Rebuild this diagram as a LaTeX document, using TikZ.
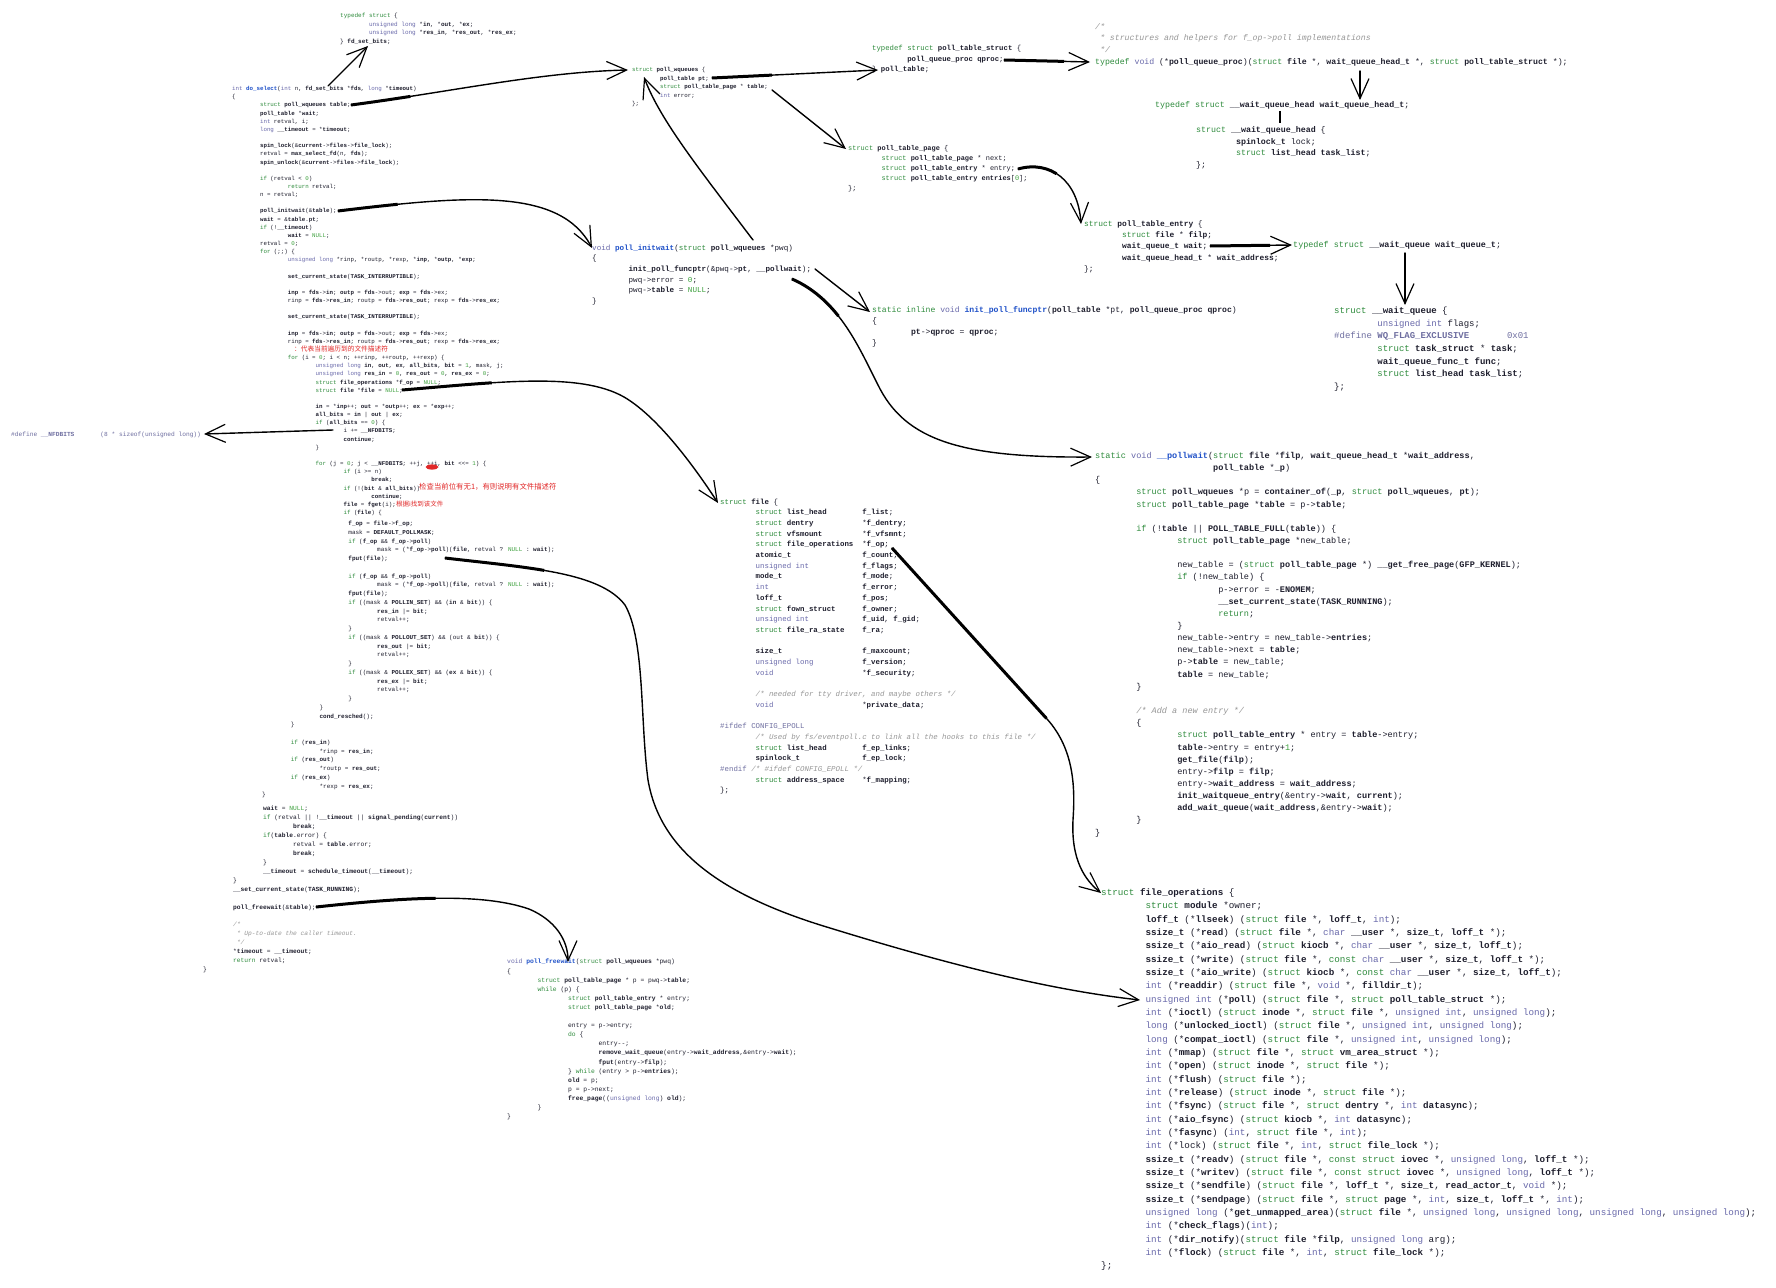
\documentclass[tikz,border=0pt]{standalone}
\usepackage{fontspec}
\newfontfamily\codefont{Liberation Mono}
\newfontfamily\cjkfont{Noto Sans CJK SC}
\usetikzlibrary{arrows.meta}

% syntax colours
\definecolor{kwc}{RGB}{46,139,60}
\definecolor{tyc}{RGB}{105,105,170}
\definecolor{fnc}{RGB}{30,80,200}
\definecolor{cmc}{RGB}{150,150,150}
\definecolor{numc}{RGB}{60,160,60}
\definecolor{ppc}{RGB}{110,110,160}
\definecolor{txtc}{RGB}{30,30,45}
\definecolor{redc}{RGB}{225,40,40}

\newcommand\cfs[2]{\codefont\fontsize{#1}{#2}\selectfont}
\newcommand\ckw[1]{\textcolor{kwc}{#1}}
\newcommand\cty[1]{\textcolor{tyc}{#1}}
\newcommand\cfn[1]{\textcolor{fnc}{\bfseries #1}}
\newcommand\ccm[1]{\textcolor{cmc}{\itshape #1}}
\newcommand\cbb[1]{\textbf{#1}}
\newcommand\cnm[1]{\textcolor{numc}{#1}}
\newcommand\cpp[1]{\textcolor{ppc}{#1}}
\newcommand\cind[1]{\hspace*{#1\dimexpr4.8em\relax}}
\newcommand\ccol[1]{\makebox[14.4em][l]{#1}}
\newcommand\cbl{\mbox{}}

\tikzset{
  code/.style={anchor=north west, inner sep=0pt, align=left, text=txtc},
  note/.style={anchor=west, inner sep=0pt, text=redc},
  arr/.style={line width=1.4pt, line cap=round,
    -{Straight Barb[length=20pt,width=18pt,line width=1.2pt]}},
  arrh/.style={arr, preaction={draw, arrows=-, line width=3pt,
    dash pattern=on #1 off 4000pt}},
  arrh/.default=60pt,
}

\begin{document}
\begin{tikzpicture}[x=1pt,y=-1pt]
\fill[white] (0,0) rectangle (1776,1287);
\useasboundingbox (0,0) rectangle (1776,1287);

% ---------------- fd_set_bits
\node[code, font=\cfs{6}{8.6}] (fdset) at (340,13.1) {%
\ckw{typedef struct} \{\\
\cind1\cty{unsigned long} *\cbb{in}, *\cbb{out}, *\cbb{ex};\\
\cind1\cty{unsigned long} *\cbb{res\_in}, *\cbb{res\_out}, *\cbb{res\_ex};\\
\} \cbb{fd\_set\_bits};};

% ---------------- do_select, upper part
\node[code, font=\cfs{5.8}{8.15}] (selA) at (232,86.2) {%
\cty{int} \cfn{do\_select}(\cty{int} n, \cbb{fd\_set\_bits} *\cbb{fds}, \cty{long} *\cbb{timeout})\\
\{\\
\cind1\ckw{struct} \cbb{poll\_wqueues table};\\
\cind1\cbb{poll\_table} *\cbb{wait};\\
\cind1\cty{int} retval, i;\\
\cind1\cty{long} \cbb{\_\_timeout} = *\cbb{timeout};\\
\cbl\\
\cind1\cbb{spin\_lock}(\&\cbb{current}->\cbb{files}->\cbb{file\_lock});\\
\cind1retval = \cbb{max\_select\_fd}(n, \cbb{fds});\\
\cind1\cbb{spin\_unlock}(\&\cbb{current}->\cbb{files}->\cbb{file\_lock});\\
\cbl\\
\cind1\ckw{if} (retval < \cnm{0})\\
\cind2\ckw{return} retval;\\
\cind1n = retval;\\
\cbl\\
\cind1\cbb{poll\_initwait}(\&\cbb{table});\\
\cind1\cbb{wait} = \&\cbb{table}.\cbb{pt};\\
\cind1\ckw{if} (!\cbb{\_\_timeout})\\
\cind2\cbb{wait} = \cnm{NULL};\\
\cind1retval = \cnm{0};\\
\cind1\ckw{for} (;;) \{\\
\cind2\cty{unsigned long} *rinp, *routp, *rexp, *\cbb{inp}, *\cbb{outp}, *\cbb{exp};\\
\cbl\\
\cind2\cbb{set\_current\_state}(\cbb{TASK\_INTERRUPTIBLE});\\
\cbl\\
\cind2\cbb{inp} = \cbb{fds}->\cbb{in}; \cbb{outp} = \cbb{fds}->out; \cbb{exp} = \cbb{fds}->ex;\\
\cind2rinp = \cbb{fds}->\cbb{res\_in}; routp = \cbb{fds}->\cbb{res\_out}; rexp = \cbb{fds}->\cbb{res\_ex};\\
\cbl\\
\cind2\cbb{set\_current\_state}(\cbb{TASK\_INTERRUPTIBLE});\\
\cbl\\
\cind2\cbb{inp} = \cbb{fds}->\cbb{in}; \cbb{outp} = \cbb{fds}->out; \cbb{exp} = \cbb{fds}->ex;\\
\cind2rinp = \cbb{fds}->\cbb{res\_in}; routp = \cbb{fds}->\cbb{res\_out}; rexp = \cbb{fds}->\cbb{res\_ex};\\
\cbl\\
\cind2\ckw{for} (i = \cnm{0}; i < n; ++rinp, ++routp, ++rexp) \{\\
\cind3\cty{unsigned long} \cbb{in}, \cbb{out}, \cbb{ex}, \cbb{all\_bits}, \cbb{bit} = \cnm{1}, mask, j;\\
\cind3\cty{unsigned long} \cbb{res\_in} = \cnm{0}, \cbb{res\_out} = \cnm{0}, \cbb{res\_ex} = \cnm{0};\\
\cind3\ckw{struct} \cbb{file\_operations} *\cbb{f\_op} = \cnm{NULL};\\
\cind3\ckw{struct} \cbb{file} *\cbb{file} = \cnm{NULL};\\
\cbl\\
\cind3\cbb{in} = *\cbb{inp}++; \cbb{out} = *\cbb{outp}++; \cbb{ex} = *\cbb{exp}++;\\
\cind3\cbb{all\_bits} = \cbb{in} | \cbb{out} | \cbb{ex};\\
\cind3\ckw{if} (\cbb{all\_bits} == \cnm{0}) \{\\
\cind4i += \cbb{\_\_NFDBITS};\\
\cind4\cbb{continue};\\
\cind3\}\\
\cbl\\
\cind3\ckw{for} (j = \cnm{0}; j < \cbb{\_\_NFDBITS}; ++j, ++i, \cbb{bit} <{}<= \cnm{1}) \{\\
\cind4\ckw{if} (i >= n)\\
\cind5\cbb{break};\\
\cind4\ckw{if} (!(\cbb{bit} \& \cbb{all\_bits}))\\
\cind5\cbb{continue};\\
\cind4\cbb{file} = \cbb{fget}(i);\\
\cind4\ckw{if} (\cbb{file}) \{};

\node[note, font=\cjkfont\fontsize{6.7}{8}\selectfont] (red1) at (294,349) {：代表当前遍历到的文件描述符};
\node[note, font=\cjkfont\fontsize{7.4}{8}\selectfont] (red2) at (419,487) {检查当前位有无1，有则说明有文件描述符};
\node[note, font=\cjkfont\fontsize{6.5}{8}\selectfont] (red3) at (396,504) {根据i找到该文件};
\fill[redc] (432,467) ellipse (6.5pt and 2.6pt);

% ---------------- do_select, middle part
\node[code, font=\cfs{6}{8.75}] (selB) at (233,521.1) {%
\cind4\cbb{f\_op} = \cbb{file}->\cbb{f\_op};\\
\cind4mask = \cbb{DEFAULT\_POLLMASK};\\
\cind4\ckw{if} (\cbb{f\_op} \&\& \cbb{f\_op}->\cbb{poll})\\
\cind5mask = (*\cbb{f\_op}->\cbb{poll})(\cbb{file}, retval ? \cnm{NULL} : \cbb{wait});\\
\cind4\cbb{fput}(\cbb{file});\\
\cbl\\
\cind4\ckw{if} (\cbb{f\_op} \&\& \cbb{f\_op}->\cbb{poll})\\
\cind5mask = (*\cbb{f\_op}->\cbb{poll})(\cbb{file}, retval ? \cnm{NULL} : \cbb{wait});\\
\cind4\cbb{fput}(\cbb{file});\\
\cind4\ckw{if} ((mask \& \cbb{POLLIN\_SET}) \&\& (\cbb{in} \& \cbb{bit})) \{\\
\cind5\cbb{res\_in} |= \cbb{bit};\\
\cind5retval++;\\
\cind4\}\\
\cind4\ckw{if} ((mask \& \cbb{POLLOUT\_SET}) \&\& (out \& \cbb{bit})) \{\\
\cind5\cbb{res\_out} |= \cbb{bit};\\
\cind5retval++;\\
\cind4\}\\
\cind4\ckw{if} ((mask \& \cbb{POLLEX\_SET}) \&\& (\cbb{ex} \& \cbb{bit})) \{\\
\cind5\cbb{res\_ex} |= \cbb{bit};\\
\cind5retval++;\\
\cind4\}\\
\cind3\}\\
\cind3\cbb{cond\_resched}();\\
\cind2\}\\
\cbl\\
\cind2\ckw{if} (\cbb{res\_in})\\
\cind3*rinp = \cbb{res\_in};\\
\cind2\ckw{if} (\cbb{res\_out})\\
\cind3*routp = \cbb{res\_out};\\
\cind2\ckw{if} (\cbb{res\_ex})\\
\cind3*rexp = \cbb{res\_ex};\\
\cind1\}};

% ---------------- do_select, lower part
\node[code, font=\cfs{6.25}{8.94}] (selC) at (203,806) {%
\cind2\cbb{wait} = \cnm{NULL};\\
\cind2\ckw{if} (retval || !\cbb{\_\_timeout} || \cbb{signal\_pending}(\cbb{current}))\\
\cind3\cbb{break};\\
\cind2\ckw{if}(\cbb{table}.error) \{\\
\cind3retval = \cbb{table}.error;\\
\cind3\cbb{break};\\
\cind2\}\\
\cind2\cbb{\_\_timeout} = \cbb{schedule\_timeout}(\cbb{\_\_timeout});\\
\cind1\}\\
\cind1\cbb{\_\_set\_current\_state}(\cbb{TASK\_RUNNING});\\
\cbl\\
\cind1\cbb{poll\_freewait}(\&\cbb{table});\\
\cbl\\
\cind1\ccm{/*}\\
\cind1\ccm{~* Up-to-date the caller timeout.}\\
\cind1\ccm{~*/}\\
\cind1*\cbb{timeout} = \cbb{\_\_timeout};\\
\cind1\ckw{return} retval;\\
\}};

% ---------------- __NFDBITS
\node[code, font=\cfs{6.2}{8}, text=ppc] (nfd) at (11,432) {%
\#define \cbb{\_\_NFDBITS}~~~~~~~(8 * sizeof(unsigned long))};

% ---------------- struct poll_wqueues
\node[code, font=\cfs{5.8}{8.5}] (wq) at (632,67.2) {%
\ckw{struct} \cbb{poll\_wqueues} \{\\
\cind1\cbb{poll\_table pt};\\
\cind1\ckw{struct} \cbb{poll\_table\_page} * \cbb{table};\\
\cind1\cty{int} error;\\
\};};

% ---------------- poll_table
\node[code, font=\cfs{7.3}{10.5}] (pts) at (872,45.5) {%
\ckw{typedef struct} \cbb{poll\_table\_struct} \{\\
\cind1\cbb{poll\_queue\_proc} \cbb{qproc};\\
\} \cbb{poll\_table};};

% ---------------- struct poll_table_page
\node[code, font=\cfs{6.95}{10}] (ptp) at (848,145.7) {%
\ckw{struct} \cbb{poll\_table\_page} \{\\
\cind1\ckw{struct} \cbb{poll\_table\_page} * next;\\
\cind1\ckw{struct} \cbb{poll\_table\_entry} * entry;\\
\cind1\ckw{struct} \cbb{poll\_table\_entry} \cbb{entries}[\cnm{0}];\\
\};};

% ---------------- poll_initwait
\node[code, font=\cfs{7.6}{10.7}] (init) at (592,244.4) {%
\cty{void} \cfn{poll\_initwait}(\ckw{struct} \cbb{poll\_wqueues} *pwq)\\
\{\\
\cind1\cbb{init\_poll\_funcptr}(\&pwq->\cbb{pt}, \cbb{\_\_pollwait});\\
\cind1pwq->error = \cnm{0};\\
\cind1pwq->\cbb{table} = \cnm{NULL};\\
\}};

% ---------------- init_poll_funcptr
\node[code, font=\cfs{8.1}{11}] (ipf) at (872,306.1) {%
\ckw{static inline} \cty{void} \cfn{init\_poll\_funcptr}(\cbb{poll\_table} *pt, \cbb{poll\_queue\_proc} \cbb{qproc})\\
\{\\
\cind1\cbb{pt}->\cbb{qproc} = \cbb{qproc};\\
\}};

% ---------------- poll_queue_proc
\node[code, font=\cfs{8.2}{11.7}] (pqp) at (1095,23.1) {%
\ccm{/*}\\
\ccm{~* structures and helpers for f\_op->poll implementations}\\
\ccm{~*/}\\
\ckw{typedef} \cty{void} (*\cbb{poll\_queue\_proc})(\ckw{struct} \cbb{file} *, \cbb{wait\_queue\_head\_t} *, \ckw{struct} \cbb{poll\_table\_struct} *);};

% ---------------- wait_queue_head_t
\node[code, font=\cfs{8.3}{11.8}] (wqht) at (1155,101) {%
\ckw{typedef struct} \cbb{\_\_wait\_queue\_head} \cbb{wait\_queue\_head\_t};};

\node[code, font=\cfs{8.3}{11.8}] (wqhs) at (1196,126) {%
\ckw{struct} \cbb{\_\_wait\_queue\_head} \{\\
\cind1\cbb{spinlock\_t} lock;\\
\cind1\ckw{struct} \cbb{list\_head} \cbb{task\_list};\\
\};};

% ---------------- struct poll_table_entry
\node[code, font=\cfs{7.9}{11.3}] (pte) at (1084,220.2) {%
\ckw{struct} \cbb{poll\_table\_entry} \{\\
\cind1\ckw{struct} \cbb{file} * \cbb{filp};\\
\cind1\cbb{wait\_queue\_t} \cbb{wait};\\
\cind1\cbb{wait\_queue\_head\_t} * \cbb{wait\_address};\\
\};};

% ---------------- wait_queue_t
\node[code, font=\cfs{8.45}{12}] (wqt) at (1293,240.9) {%
\ckw{typedef struct} \cbb{\_\_wait\_queue} \cbb{wait\_queue\_t};};

\node[code, font=\cfs{9}{12.7}] (wqs) at (1334,306.7) {%
\ckw{struct} \cbb{\_\_wait\_queue} \{\\
\cind1\cty{unsigned int} flags;\\
\cpp{\#define} \cpp{\cbb{WQ\_FLAG\_EXCLUSIVE}}~~~~~~~\cpp{0x01}\\
\cind1\ckw{struct} \cbb{task\_struct} * \cbb{task};\\
\cind1\cbb{wait\_queue\_func\_t} \cbb{func};\\
\cind1\ckw{struct} \cbb{list\_head} \cbb{task\_list};\\
\};};

% ---------------- __pollwait
\node[code, font=\cfs{8.55}{12.15}] (pw) at (1095,451.9) {%
\ckw{static} \cty{void} \cfn{\_\_pollwait}(\ckw{struct} \cbb{file} *\cbb{filp}, \cbb{wait\_queue\_head\_t} *\cbb{wait\_address},\\
\hspace*{13.8em}\cbb{poll\_table} *\cbb{\_p})\\
\{\\
\cind1\ckw{struct} \cbb{poll\_wqueues} *p = \cbb{container\_of}(\cbb{\_p}, \ckw{struct} \cbb{poll\_wqueues}, \cbb{pt});\\
\cind1\ckw{struct} \cbb{poll\_table\_page} *\cbb{table} = p->\cbb{table};\\
\cbl\\
\cind1\ckw{if} (!\cbb{table} || \cbb{POLL\_TABLE\_FULL}(\cbb{table})) \{\\
\cind2\ckw{struct} \cbb{poll\_table\_page} *new\_table;\\
\cbl\\
\cind2new\_table = (\ckw{struct} \cbb{poll\_table\_page} *) \cbb{\_\_get\_free\_page}(\cbb{GFP\_KERNEL});\\
\cind2\ckw{if} (!new\_table) \{\\
\cind3p->error = -\cbb{ENOMEM};\\
\cind3\cbb{\_\_set\_current\_state}(\cbb{TASK\_RUNNING});\\
\cind3\ckw{return};\\
\cind2\}\\
\cind2new\_table->entry = new\_table->\cbb{entries};\\
\cind2new\_table->next = \cbb{table};\\
\cind2p->\cbb{table} = new\_table;\\
\cind2\cbb{table} = new\_table;\\
\cind1\}\\
\cbl\\
\cind1\ccm{/* Add a new entry */}\\
\cind1\{\\
\cind2\ckw{struct} \cbb{poll\_table\_entry} * entry = \cbb{table}->entry;\\
\cind2\cbb{table}->entry = entry+\cnm{1};\\
\cind2\cbb{get\_file}(\cbb{filp});\\
\cind2entry->\cbb{filp} = \cbb{filp};\\
\cind2entry->\cbb{wait\_address} = \cbb{wait\_address};\\
\cind2\cbb{init\_waitqueue\_entry}(\&entry->\cbb{wait}, \cbb{current});\\
\cind2\cbb{add\_wait\_queue}(\cbb{wait\_address},\&entry->\cbb{wait});\\
\cind1\}\\
\}};

% ---------------- struct file
\node[code, font=\cfs{7.4}{10.7}] (file) at (720,498.4) {%
\ckw{struct} \cbb{file} \{\\
\cind1\ccol{\ckw{struct} \cbb{list\_head}}\cbb{f\_list};\\
\cind1\ccol{\ckw{struct} \cbb{dentry}}*\cbb{f\_dentry};\\
\cind1\ccol{\ckw{struct} \cbb{vfsmount}}*\cbb{f\_vfsmnt};\\
\cind1\ccol{\ckw{struct} \cbb{file\_operations}}*\cbb{f\_op};\\
\cind1\ccol{\cbb{atomic\_t}}\cbb{f\_count};\\
\cind1\ccol{\cty{unsigned int}}\cbb{f\_flags};\\
\cind1\ccol{\cbb{mode\_t}}\cbb{f\_mode};\\
\cind1\ccol{\cty{int}}\cbb{f\_error};\\
\cind1\ccol{\cbb{loff\_t}}\cbb{f\_pos};\\
\cind1\ccol{\ckw{struct} \cbb{fown\_struct}}\cbb{f\_owner};\\
\cind1\ccol{\cty{unsigned int}}\cbb{f\_uid}, \cbb{f\_gid};\\
\cind1\ccol{\ckw{struct} \cbb{file\_ra\_state}}\cbb{f\_ra};\\
\cbl\\
\cind1\ccol{\cbb{size\_t}}\cbb{f\_maxcount};\\
\cind1\ccol{\cty{unsigned long}}\cbb{f\_version};\\
\cind1\ccol{\cty{void}}*\cbb{f\_security};\\
\cbl\\
\cind1\ccm{/* needed for tty driver, and maybe others */}\\
\cind1\ccol{\cty{void}}*\cbb{private\_data};\\
\cbl\\
\cpp{\#ifdef} \cpp{CONFIG\_EPOLL}\\
\cind1\ccm{/* Used by fs/eventpoll.c to link all the hooks to this file */}\\
\cind1\ccol{\ckw{struct} \cbb{list\_head}}\cbb{f\_ep\_links};\\
\cind1\ccol{\cbb{spinlock\_t}}\cbb{f\_ep\_lock};\\
\cpp{\#endif} \ccm{/* \#ifdef CONFIG\_EPOLL */}\\
\cind1\ccol{\ckw{struct} \cbb{address\_space}}*\cbb{f\_mapping};\\
\};};

% ---------------- poll_freewait
\node[code, font=\cfs{6.35}{9.1}] (free) at (507,959) {%
\cty{void} \cfn{poll\_freewait}(\ckw{struct} \cbb{poll\_wqueues} *pwq)\\
\{\\
\cind1\ckw{struct} \cbb{poll\_table\_page} * p = pwq->\cbb{table};\\
\cind1\ckw{while} (p) \{\\
\cind2\ckw{struct} \cbb{poll\_table\_entry} * entry;\\
\cind2\ckw{struct} \cbb{poll\_table\_page} *\cbb{old};\\
\cbl\\
\cind2entry = p->entry;\\
\cind2\ckw{do} \{\\
\cind3entry-{}-;\\
\cind3\cbb{remove\_wait\_queue}(entry->\cbb{wait\_address},\&entry->\cbb{wait});\\
\cind3\cbb{fput}(entry->\cbb{filp});\\
\cind2\} \ckw{while} (entry > p->\cbb{entries});\\
\cind2\cbb{old} = p;\\
\cind2p = p->next;\\
\cind2\cbb{free\_page}((\cty{unsigned long}) \cbb{old});\\
\cind1\}\\
\}};

% ---------------- struct file_operations
\node[code, font=\cfs{9.25}{13.33}] (fop) at (1101,888.6) {%
\ckw{struct} \cbb{file\_operations} \{\\
\cind1\ckw{struct} \cbb{module} *owner;\\
\cind1\cbb{loff\_t} (*\cbb{llseek}) (\ckw{struct} \cbb{file} *, \cbb{loff\_t}, \cty{int});\\
\cind1\cbb{ssize\_t} (*\cbb{read}) (\ckw{struct} \cbb{file} *, \cty{char} \cbb{\_\_user} *, \cbb{size\_t}, \cbb{loff\_t} *);\\
\cind1\cbb{ssize\_t} (*\cbb{aio\_read}) (\ckw{struct} \cbb{kiocb} *, \cty{char} \cbb{\_\_user} *, \cbb{size\_t}, \cbb{loff\_t});\\
\cind1\cbb{ssize\_t} (*\cbb{write}) (\ckw{struct} \cbb{file} *, \ckw{const} \cty{char} \cbb{\_\_user} *, \cbb{size\_t}, \cbb{loff\_t} *);\\
\cind1\cbb{ssize\_t} (*\cbb{aio\_write}) (\ckw{struct} \cbb{kiocb} *, \ckw{const} \cty{char} \cbb{\_\_user} *, \cbb{size\_t}, \cbb{loff\_t});\\
\cind1\cty{int} (*\cbb{readdir}) (\ckw{struct} \cbb{file} *, \cty{void} *, \cbb{filldir\_t});\\
\cind1\cty{unsigned int} (*\cbb{poll}) (\ckw{struct} \cbb{file} *, \ckw{struct} \cbb{poll\_table\_struct} *);\\
\cind1\cty{int} (*\cbb{ioctl}) (\ckw{struct} \cbb{inode} *, \ckw{struct} \cbb{file} *, \cty{unsigned int}, \cty{unsigned long});\\
\cind1\cty{long} (*\cbb{unlocked\_ioctl}) (\ckw{struct} \cbb{file} *, \cty{unsigned int}, \cty{unsigned long});\\
\cind1\cty{long} (*\cbb{compat\_ioctl}) (\ckw{struct} \cbb{file} *, \cty{unsigned int}, \cty{unsigned long});\\
\cind1\cty{int} (*\cbb{mmap}) (\ckw{struct} \cbb{file} *, \ckw{struct} \cbb{vm\_area\_struct} *);\\
\cind1\cty{int} (*\cbb{open}) (\ckw{struct} \cbb{inode} *, \ckw{struct} \cbb{file} *);\\
\cind1\cty{int} (*\cbb{flush}) (\ckw{struct} \cbb{file} *);\\
\cind1\cty{int} (*\cbb{release}) (\ckw{struct} \cbb{inode} *, \ckw{struct} \cbb{file} *);\\
\cind1\cty{int} (*\cbb{fsync}) (\ckw{struct} \cbb{file} *, \ckw{struct} \cbb{dentry} *, \cty{int} \cbb{datasync});\\
\cind1\cty{int} (*\cbb{aio\_fsync}) (\ckw{struct} \cbb{kiocb} *, \cty{int} \cbb{datasync});\\
\cind1\cty{int} (*\cbb{fasync}) (\cty{int}, \ckw{struct} \cbb{file} *, \cty{int});\\
\cind1\cty{int} (*lock) (\ckw{struct} \cbb{file} *, \cty{int}, \ckw{struct} \cbb{file\_lock} *);\\
\cind1\cbb{ssize\_t} (*\cbb{readv}) (\ckw{struct} \cbb{file} *, \ckw{const struct} \cbb{iovec} *, \cty{unsigned long}, \cbb{loff\_t} *);\\
\cind1\cbb{ssize\_t} (*\cbb{writev}) (\ckw{struct} \cbb{file} *, \ckw{const struct} \cbb{iovec} *, \cty{unsigned long}, \cbb{loff\_t} *);\\
\cind1\cbb{ssize\_t} (*\cbb{sendfile}) (\ckw{struct} \cbb{file} *, \cbb{loff\_t} *, \cbb{size\_t}, \cbb{read\_actor\_t}, \cty{void} *);\\
\cind1\cbb{ssize\_t} (*\cbb{sendpage}) (\ckw{struct} \cbb{file} *, \ckw{struct} \cbb{page} *, \cty{int}, \cbb{size\_t}, \cbb{loff\_t} *, \cty{int});\\
\cind1\cty{unsigned long} (*\cbb{get\_unmapped\_area})(\ckw{struct} \cbb{file} *, \cty{unsigned long}, \cty{unsigned long}, \cty{unsigned long}, \cty{unsigned long});\\
\cind1\cty{int} (*\cbb{check\_flags})(\cty{int});\\
\cind1\cty{int} (*\cbb{dir\_notify})(\ckw{struct} \cbb{file} *\cbb{filp}, \cty{unsigned long} arg);\\
\cind1\cty{int} (*\cbb{flock}) (\ckw{struct} \cbb{file} *, \cty{int}, \ckw{struct} \cbb{file\_lock} *);\\
\};};

% ---------------- connector end points on the code
\coordinate (selWq)    at (351,105);  \coordinate (wqHead)   at (628,70);
\coordinate (selFds)   at (328,86);   \coordinate (fdsHead)  at (368,46);
\coordinate (selInit)  at (338,211);  \coordinate (initHead) at (592,248);
\coordinate (wqTable)  at (772,90);   \coordinate (ptpHead)  at (846,149);
\coordinate (wqPt)     at (712,78);   \coordinate (ptHead)   at (878,70);
\coordinate (initFn)   at (815,269);  \coordinate (ipfHead)  at (870,312);
\coordinate (initPwq)  at (753,240);  \coordinate (wqTail)   at (644,77);
\coordinate (ptsQproc) at (1004,60);  \coordinate (pqpHead)  at (1090,62);
\coordinate (ptpEntry) at (1018,169); \coordinate (pteHead)  at (1081,224);
\coordinate (pqpWqh)   at (1360,71);  \coordinate (wqhtHead) at (1360,100);
\coordinate (wqhtName) at (1280,111); \coordinate (wqhsTop)  at (1280,123);
\coordinate (pteWait)  at (1210,246); \coordinate (wqtHead)  at (1292,245);
\coordinate (wqtName)  at (1405,253); \coordinate (wqsHead)  at (1405,305);
\coordinate (initPw)   at (792,279);  \coordinate (pwHead)   at (1092,457);
\coordinate (selFile)  at (402,390);  \coordinate (fileHead) at (718,503);
\coordinate (selNfd)   at (333,430);  \coordinate (nfdHead)  at (204,434);
\coordinate (selPoll)  at (445,558);  \coordinate (fopPoll)  at (1140,1000);
\coordinate (fileFop)  at (892,548);  \coordinate (fopHead)  at (1101,893);
\coordinate (selFree)  at (316,907);  \coordinate (freeHead) at (568,962);

% ---------------- connectors
\draw[arrh] (selWq) .. controls (450,92) and (540,72) .. (wqHead);
\draw[arr] (selFds) -- (fdsHead);
\draw[arrh] (selInit) .. controls (470,195) and (560,188) .. (initHead);
\draw[arr] (wqTable) -- (ptpHead);
\draw[arrh] (wqPt) -- (ptHead);
\draw[arr] (initFn) -- (ipfHead);
\draw[arr] (initPwq) .. controls (700,170) and (660,120) .. (wqTail);
\draw[arrh] (ptsQproc) -- (pqpHead);
\draw[arrh=40pt] (ptpEntry) .. controls (1050,160) and (1078,180) .. (pteHead);
\draw[arr] (pqpWqh) -- (wqhtHead);
\draw[line width=2pt] (wqhtName) -- (wqhsTop);
\draw[arrh] (pteWait) -- (wqtHead);
\draw[arr] (wqtName) -- (wqsHead);
\draw[arrh] (initPw) .. controls (840,300) and (860,350) .. (878,385)
  .. controls (905,440) and (960,458) .. (pwHead);
\draw[arrh=90pt] (selFile) .. controls (500,382) and (580,372) .. (624,397)
  .. controls (655,415) and (690,460) .. (fileHead);
\draw[arr] (selNfd) -- (nfdHead);
\draw[arrh=100pt] (selPoll) .. controls (530,568) and (600,572) .. (625,605)
  .. controls (645,640) and (640,720) .. (648,780)
  .. controls (660,850) and (720,895) .. (830,928)
  .. controls (950,965) and (1050,990) .. (fopPoll);
\draw[arrh=230pt] (fileFop) -- (1047,719)
  .. controls (1075,750) and (1075,790) .. (1073,820)
  .. controls (1071,860) and (1085,880) .. (fopHead);
\draw[arrh=120pt] (selFree) .. controls (400,898) and (480,892) .. (529,909)
  .. controls (555,920) and (568,940) .. (freeHead);
\end{tikzpicture}
\end{document}
